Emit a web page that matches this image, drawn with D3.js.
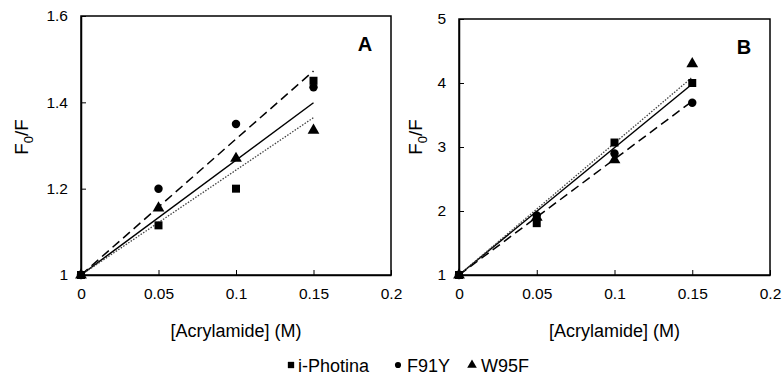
<!DOCTYPE html>
<html>
<head>
<meta charset="utf-8">
<script src="https://cdn.jsdelivr.net/npm/d3@7"></script>
<style>
    body { margin: 0; background: #fff; }
    svg { font-family: "Liberation Sans", Arial, sans-serif; }
    .axis path, .axis line { stroke: #000; }
    .axis text { font-size: 15.5px; fill: #000; }
</style>
</head>
<body>
<svg id="chart" width="782" height="379"></svg>
<script>
// acrylamide concentrations (M)
const conc = [0, 0.05, 0.1, 0.15];

// F0/F readings, panel A
const aPhotina = [1, 1.115, 1.2, 1.45];
const aF91Y    = [1, 1.2, 1.35, 1.435];
const aW95F    = [1, 1.155, 1.27, 1.335];

// F0/F readings, panel B
const bPhotina = [1, 1.81, 3.07, 4.0];
const bF91Y    = [1, 1.93, 2.9, 3.69];
const bW95F    = [1, 1.9, 2.8, 4.3];

// Stern-Volmer slopes of the fitted lines
const ksvA = {photina: 2.66, f91y: 3.15, w95f: 2.43};
const ksvB = {photina: 19.9, f91y: 18.1, w95f: 20.6};

const xTicks  = [0, 0.05, 0.1, 0.15, 0.2];
const yTicksA = [1, 1.2, 1.4, 1.6];
const yTicksB = [1, 2, 3, 4, 5];

const seriesNames = ['i-Photina', 'F91Y', 'W95F'];

const svg = d3.select('#chart');

const symbolTypes = {'i-Photina': d3.symbolSquare, 'F91Y': d3.symbolCircle, 'W95F': d3.symbolTriangle};
const symbolSizes = {'i-Photina': 64, 'F91Y': 56, 'W95F': 60};
const lineDash    = {'i-Photina': null, 'F91Y': '9,5', 'W95F': '1.5,1.5'};

function panel(opt) {
    const x = d3.scaleLinear().domain([0, 0.2]).range([opt.left, opt.right]);
    const y = d3.scaleLinear().domain(opt.yDomain).range([opt.bottom, opt.top]);
    const g = svg.append('g');

    // fitted lines through (0, 1)
    const fits = [
        {name: 'i-Photina', k: opt.ksv.photina},
        {name: 'F91Y', k: opt.ksv.f91y},
        {name: 'W95F', k: opt.ksv.w95f}
    ];
    fits.forEach(f => {
        g.append('line')
            .attr('x1', x(0)).attr('y1', y(1))
            .attr('x2', x(0.15)).attr('y2', y(1 + f.k * 0.15))
            .attr('stroke', f.name === 'W95F' ? '#444' : '#000')
            .attr('stroke-width', f.name === 'W95F' ? 1.3 : 1.5)
            .attr('stroke-dasharray', lineDash[f.name]);
    });

    // frame
    g.append('rect')
        .attr('x', opt.left).attr('y', opt.top)
        .attr('width', opt.right - opt.left).attr('height', opt.bottom - opt.top)
        .attr('fill', 'none').attr('stroke', '#000').attr('stroke-width', 1.5);

    g.append('g').attr('class', 'axis')
        .attr('transform', `translate(0,${opt.bottom})`)
        .call(d3.axisBottom(x).tickValues(xTicks).tickFormat(d3.format('~g')).tickSizeInner(-5).tickSizeOuter(0).tickPadding(13))
        .call(a => a.select('.domain').attr('stroke-width', 1.5));

    g.append('g').attr('class', 'axis')
        .attr('transform', `translate(${opt.left},0)`)
        .call(d3.axisLeft(y).tickValues(opt.yTicks).tickFormat(d3.format('~g')).tickSizeInner(-5).tickSizeOuter(0).tickPadding(13))
        .call(a => a.select('.domain').attr('stroke-width', 1.5));

    // points
    seriesNames.forEach((name, i) => {
        g.selectAll(null)
            .data(opt.values[i].map((v, j) => ({c: conc[j], v})))
            .enter().append('path')
            .attr('d', d3.symbol().type(symbolTypes[name]).size(symbolSizes[name]))
            .attr('transform', d => `translate(${x(d.c)},${y(d.v)})`)
            .attr('fill', '#000');
    });

    // panel letter
    g.append('text')
        .attr('x', opt.right - 26).attr('y', opt.top + 35)
        .attr('text-anchor', 'middle')
        .attr('font-size', 20).attr('font-weight', 'bold')
        .text(opt.letter);

    // axis titles
    g.append('text')
        .attr('x', (opt.left + opt.right) / 2).attr('y', 337)
        .attr('text-anchor', 'middle').attr('font-size', 18).attr('fill', '#000')
        .text('[Acrylamide] (M)');

    const yt = g.append('text')
        .attr('transform', `translate(${opt.yTitleX},137) rotate(-90)`)
        .attr('text-anchor', 'middle').attr('font-size', 19).attr('fill', '#000');
    yt.append('tspan').text('F');
    yt.append('tspan').attr('font-size', 13).attr('dy', 5).text('0');
    yt.append('tspan').attr('dy', -5).text('/F');
}

panel({left: 81, right: 391, top: 16, bottom: 275, yDomain: [1, 1.6], yTicks: yTicksA,
       values: [aPhotina, aF91Y, aW95F], ksv: ksvA, letter: 'A', yTitleX: 28});
panel({left: 459, right: 770, top: 19, bottom: 275, yDomain: [1, 5], yTicks: yTicksB,
       values: [bPhotina, bF91Y, bW95F], ksv: ksvB, letter: 'B', yTitleX: 422});

// legend
const legendX = [291, 398, 472];
const legend = svg.append('g').attr('transform', 'translate(0,365)');
seriesNames.forEach((name, i) => {
    legend.append('path')
        .attr('d', d3.symbol().type(symbolTypes[name]).size(i === 1 ? 30 : 40))
        .attr('transform', `translate(${legendX[i]},0)`)
        .attr('fill', '#000');
    legend.append('text')
        .attr('x', legendX[i] + (i === 0 ? 7 : 9)).attr('y', 6.5)
        .attr('font-size', 18).attr('fill', '#000')
        .text(name);
});
</script>
</body>
</html>
